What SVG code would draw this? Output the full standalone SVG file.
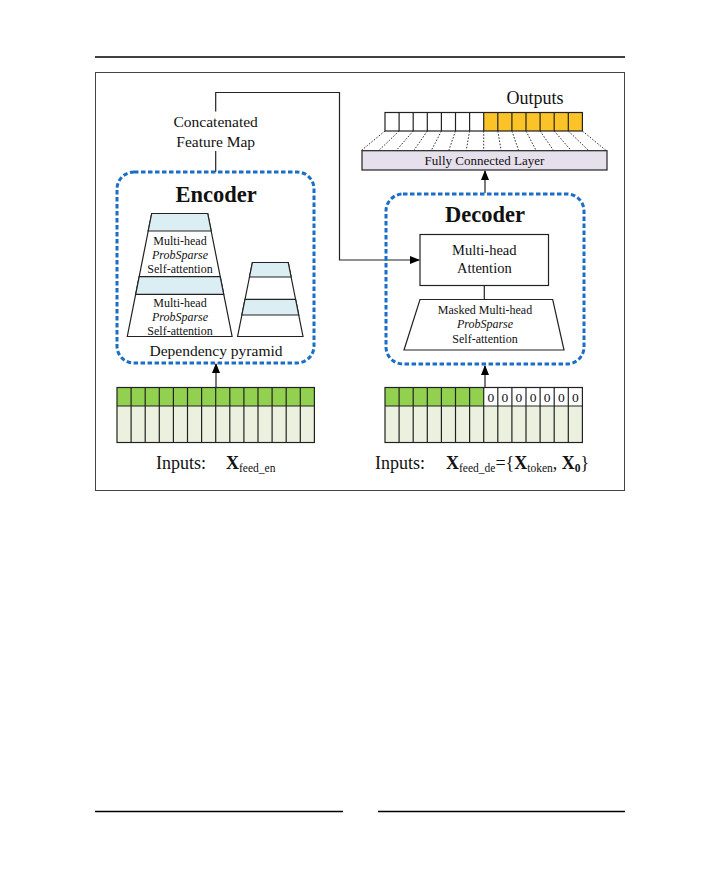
<svg xmlns="http://www.w3.org/2000/svg" width="720" height="888" viewBox="0 0 720 888">
<defs>
<marker id="arr" markerWidth="10" markerHeight="8" refX="9" refY="4" orient="auto" markerUnits="userSpaceOnUse">
<path d="M0,0 L10,4 L0,8 Z" fill="#000"/>
</marker>
<style>
.t{font-family:"Liberation Serif","Times New Roman",serif;fill:#111}
.ln{stroke:#222;stroke-width:1.2;fill:none}
.dash{fill:none;stroke:#1a6fc4;stroke-width:3;stroke-dasharray:4.5 2.5}
.band{fill:#dbeef3;stroke:#222;stroke-width:1.2}
.wh{fill:#fff;stroke:#222;stroke-width:1.2}
.dot{stroke:#333;stroke-width:1;stroke-dasharray:1.6 1.6}
.cell{stroke:#222;stroke-width:1.2}
</style>
</defs>
<rect width="720" height="888" fill="#fff"/>
<!-- page rules -->
<line x1="95" y1="57" x2="625" y2="57" stroke="#000" stroke-width="1.5"/>
<line x1="95" y1="811.5" x2="343" y2="811.5" stroke="#000" stroke-width="1.5"/>
<line x1="378" y1="811.5" x2="625" y2="811.5" stroke="#000" stroke-width="1.5"/>
<rect x="95.5" y="72.5" width="529" height="418" fill="none" stroke="#444" stroke-width="1"/>

<!-- connectors -->
<g id="connectors">
<polyline class="ln" points="215.7,111.5 215.7,92.5 339.5,92.5 339.5,260 419,260" marker-end="url(#arr)"/>
<line class="ln" x1="215.7" y1="151" x2="215.7" y2="172"/>
<line class="ln" x1="216" y1="387.5" x2="216" y2="364" marker-end="url(#arr)"/>
<line class="ln" x1="485" y1="387.5" x2="485" y2="366" marker-end="url(#arr)"/>
<line class="ln" x1="485" y1="193" x2="485" y2="171" marker-end="url(#arr)"/>
<line class="ln" x1="484.3" y1="285.5" x2="484.3" y2="299.5"/>
</g>

<!-- concatenated label -->
<g id="concat">
<text class="t" x="215.7" y="127" font-size="15.5" text-anchor="middle">Concatenated</text>
<text class="t" x="215.7" y="146.5" font-size="15.5" text-anchor="middle">Feature Map</text>
</g>

<!-- outputs -->
<g id="outputs">
<text class="t" x="535" y="104" font-size="18" text-anchor="middle">Outputs</text>
<rect x="385" y="112.5" width="98.7" height="18.5" fill="#fff"/>
<rect x="483.7" y="112.5" width="98.7" height="18.5" fill="#fbc327"/>
<g class="cell">
<rect x="385" y="112.5" width="197.4" height="18.5" fill="none"/>
<line x1="399.1" y1="112.5" x2="399.1" y2="131"/>
<line x1="413.2" y1="112.5" x2="413.2" y2="131"/>
<line x1="427.3" y1="112.5" x2="427.3" y2="131"/>
<line x1="441.4" y1="112.5" x2="441.4" y2="131"/>
<line x1="455.5" y1="112.5" x2="455.5" y2="131"/>
<line x1="469.6" y1="112.5" x2="469.6" y2="131"/>
<line x1="483.7" y1="112.5" x2="483.7" y2="131"/>
<line x1="497.8" y1="112.5" x2="497.8" y2="131"/>
<line x1="511.9" y1="112.5" x2="511.9" y2="131"/>
<line x1="526" y1="112.5" x2="526" y2="131"/>
<line x1="540.1" y1="112.5" x2="540.1" y2="131"/>
<line x1="554.2" y1="112.5" x2="554.2" y2="131"/>
<line x1="568.3" y1="112.5" x2="568.3" y2="131"/>
</g>
<g class="dot">
<line x1="385" y1="131" x2="361.1" y2="150.7"/>
<line x1="399.1" y1="131" x2="378.6" y2="150.7"/>
<line x1="413.2" y1="131" x2="396.1" y2="150.7"/>
<line x1="427.3" y1="131" x2="413.7" y2="150.7"/>
<line x1="441.4" y1="131" x2="431.2" y2="150.7"/>
<line x1="455.5" y1="131" x2="448.7" y2="150.7"/>
<line x1="469.6" y1="131" x2="466.2" y2="150.7"/>
<line x1="483.7" y1="131" x2="483.7" y2="150.7"/>
<line x1="497.8" y1="131" x2="501.2" y2="150.7"/>
<line x1="511.9" y1="131" x2="518.7" y2="150.7"/>
<line x1="526" y1="131" x2="536.2" y2="150.7"/>
<line x1="540.1" y1="131" x2="553.7" y2="150.7"/>
<line x1="554.2" y1="131" x2="571.3" y2="150.7"/>
<line x1="568.3" y1="131" x2="588.8" y2="150.7"/>
<line x1="582.4" y1="131" x2="606.3" y2="150.7"/>
</g>
</g>

<!-- fully connected layer -->
<g id="fc">
<rect x="362" y="150.7" width="245" height="19.3" fill="#e6e0ec" stroke="#222" stroke-width="1.2"/>
<text class="t" x="484.5" y="164.5" font-size="13" text-anchor="middle">Fully Connected Layer</text>
</g>

<!-- encoder -->
<g id="encoder">
<rect class="dash" x="117" y="172" width="197" height="191" rx="17"/>
<text class="t" x="216" y="202" font-size="22.5" font-weight="bold" text-anchor="middle">Encoder</text>
<g id="pyramid-left">
<polygon class="wh" points="151.7,213.5 207.7,213.5 232.1,336.5 127.3,336.5"/>
<polygon class="band" points="151.7,213.5 207.7,213.5 211.2,231 148.2,231"/>
<polygon class="band" points="139.2,276.7 220.2,276.7 223.7,294.3 135.7,294.3"/>
<text class="t" x="180" y="245" font-size="12" text-anchor="middle">Multi-head</text>
<text class="t" x="180" y="259" font-size="12" font-style="italic" text-anchor="middle">ProbSparse</text>
<text class="t" x="180" y="273" font-size="12" text-anchor="middle">Self-attention</text>
<text class="t" x="180" y="306.5" font-size="12" text-anchor="middle">Multi-head</text>
<text class="t" x="180" y="320.5" font-size="12" font-style="italic" text-anchor="middle">ProbSparse</text>
<text class="t" x="180" y="334.5" font-size="12" text-anchor="middle">Self-attention</text>
</g>
<g id="pyramid-right">
<polygon class="wh" points="252.4,262.5 288.2,262.5 303,336.5 237.6,336.5"/>
<polygon class="band" points="252.4,262.5 288.2,262.5 291.1,277 249.5,277"/>
<polygon class="band" points="245,299.3 295.6,299.3 298.7,315 241.9,315"/>
</g>
<text class="t" x="216" y="355.5" font-size="15.5" text-anchor="middle">Dependency pyramid</text>
</g>

<!-- decoder -->
<g id="decoder">
<rect class="dash" x="386" y="194" width="198" height="170" rx="17"/>
<text class="t" x="485" y="222" font-size="22.5" font-weight="bold" text-anchor="middle">Decoder</text>
<g id="mha">
<rect class="wh" x="420" y="234.5" width="128.5" height="51"/>
<text class="t" x="484.3" y="255" font-size="14.5" text-anchor="middle">Multi-head</text>
<text class="t" x="484.3" y="272.5" font-size="14.5" text-anchor="middle">Attention</text>
</g>
<g id="masked">
<polygon class="wh" points="420,299.5 552.7,299.5 564,350 404,350"/>
<text class="t" x="485" y="313.5" font-size="12" text-anchor="middle">Masked Multi-head</text>
<text class="t" x="485" y="328" font-size="12" font-style="italic" text-anchor="middle">ProbSparse</text>
<text class="t" x="485" y="343" font-size="12" text-anchor="middle">Self-attention</text>
</g>
</g>

<!-- encoder input -->
<g id="enc-input">
<rect x="117" y="387.5" width="197.4" height="18.5" fill="#92d050"/>
<rect x="117" y="406" width="197.4" height="36.5" fill="#ebf1de"/>
<g class="cell">
<rect x="117" y="387.5" width="197.4" height="55" fill="none"/>
<line x1="117" y1="406" x2="314.4" y2="406"/>
<line x1="131.1" y1="387.5" x2="131.1" y2="442.5"/>
<line x1="145.2" y1="387.5" x2="145.2" y2="442.5"/>
<line x1="159.3" y1="387.5" x2="159.3" y2="442.5"/>
<line x1="173.4" y1="387.5" x2="173.4" y2="442.5"/>
<line x1="187.5" y1="387.5" x2="187.5" y2="442.5"/>
<line x1="201.6" y1="387.5" x2="201.6" y2="442.5"/>
<line x1="215.7" y1="387.5" x2="215.7" y2="442.5"/>
<line x1="229.8" y1="387.5" x2="229.8" y2="442.5"/>
<line x1="243.9" y1="387.5" x2="243.9" y2="442.5"/>
<line x1="258" y1="387.5" x2="258" y2="442.5"/>
<line x1="272.1" y1="387.5" x2="272.1" y2="442.5"/>
<line x1="286.2" y1="387.5" x2="286.2" y2="442.5"/>
<line x1="300.3" y1="387.5" x2="300.3" y2="442.5"/>
</g>
<text class="t" x="156" y="469" font-size="18">Inputs:</text>
<text class="t" x="226" y="469" font-size="18"><tspan font-weight="bold">X</tspan><tspan font-size="11.5" dy="3">feed_en</tspan></text>
</g>

<!-- decoder input -->
<g id="dec-input">
<rect x="385" y="387.5" width="98.7" height="18.5" fill="#92d050"/>
<rect x="483.7" y="387.5" width="98.7" height="18.5" fill="#fff"/>
<rect x="385" y="406" width="197.4" height="36.5" fill="#ebf1de"/>
<g class="cell">
<rect x="385" y="387.5" width="197.4" height="55" fill="none"/>
<line x1="385" y1="406" x2="582.4" y2="406"/>
<line x1="399.1" y1="387.5" x2="399.1" y2="442.5"/>
<line x1="413.2" y1="387.5" x2="413.2" y2="442.5"/>
<line x1="427.3" y1="387.5" x2="427.3" y2="442.5"/>
<line x1="441.4" y1="387.5" x2="441.4" y2="442.5"/>
<line x1="455.5" y1="387.5" x2="455.5" y2="442.5"/>
<line x1="469.6" y1="387.5" x2="469.6" y2="442.5"/>
<line x1="483.7" y1="387.5" x2="483.7" y2="442.5"/>
<line x1="497.8" y1="387.5" x2="497.8" y2="442.5"/>
<line x1="511.9" y1="387.5" x2="511.9" y2="442.5"/>
<line x1="526" y1="387.5" x2="526" y2="442.5"/>
<line x1="540.1" y1="387.5" x2="540.1" y2="442.5"/>
<line x1="554.2" y1="387.5" x2="554.2" y2="442.5"/>
<line x1="568.3" y1="387.5" x2="568.3" y2="442.5"/>
</g>
<g class="t" font-size="13.5" text-anchor="middle">
<text x="490.75" y="401.5">0</text>
<text x="504.85" y="401.5">0</text>
<text x="518.95" y="401.5">0</text>
<text x="533.05" y="401.5">0</text>
<text x="547.15" y="401.5">0</text>
<text x="561.25" y="401.5">0</text>
<text x="575.35" y="401.5">0</text>
</g>
<text class="t" x="375" y="469" font-size="18">Inputs:</text>
<text class="t" x="446" y="469" font-size="18"><tspan font-weight="bold">X</tspan><tspan font-size="11.5" dy="3">feed_de</tspan><tspan dy="-3">={</tspan><tspan font-weight="bold">X</tspan><tspan font-size="11.5" dy="3">token</tspan><tspan dy="-3">, </tspan><tspan font-weight="bold">X</tspan><tspan font-size="11.5" font-weight="bold" dy="3">0</tspan><tspan dy="-3">}</tspan></text>
</g>
</svg>
